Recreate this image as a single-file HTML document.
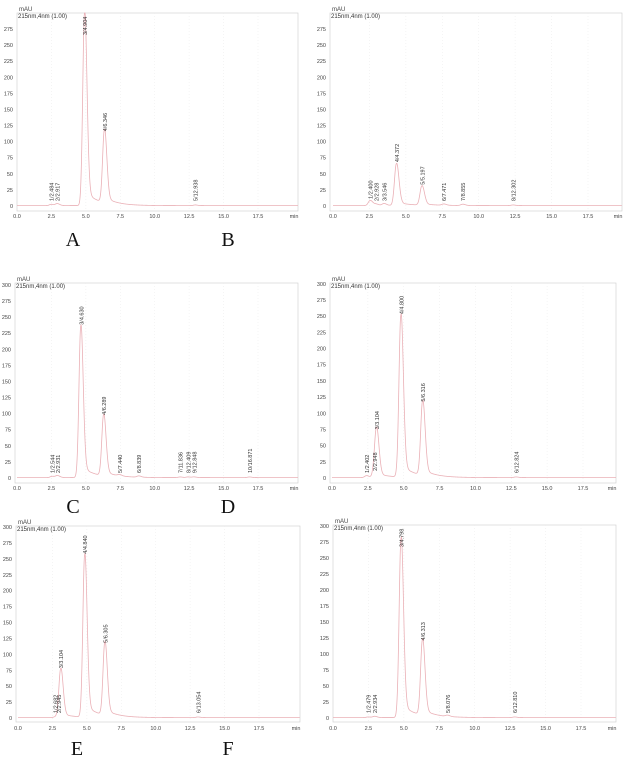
<!DOCTYPE html>
<html><head><meta charset="utf-8"><style>
body{margin:0;background:#fff;width:624px;height:771px;overflow:hidden}
svg{display:block}
text{font-family:"Liberation Sans",sans-serif}
</style></head><body>
<svg id="s" width="624" height="771"></svg>
<script>
// ---- data ----
const ticksY = [0,25,50,75,100,125,150,175,200,225,250,275];
const ticksX = [0,2.5,5,7.5,10,12.5,15,17.5];
const tickXLabels = ["0.0","2.5","5.0","7.5","10.0","12.5","15.0","17.5"];
const panelNames = ["A","B","C","D","E","F"];
const timesA = [2.484,2.917,4.904,6.346,12.938];
const heightsA = [2,3,300,113,1];
const labelsA = ["1/2.484","2/2.917","3/4.904","4/6.346","5/12.938"];
const timesB = [2.55,2.95,3.5,4.35,6.1,7.6,8.9,12.35];
const heightsB = [8,2,3,65,30,2,2,1];
const labelsB = ["1/2.400","2/2.928","3/3.546","4/4.372","5/5.197","6/7.471","7/8.855","8/12.302"];
const timesC = [2.544,2.931,4.63,6.289,7.44,8.839,11.836,12.409,12.848,16.871];
const heightsC = [2,3,235,95,2,2,1,1,1,1];
const labelsC = ["1/2.544","2/2.931","3/4.630","4/6.289","5/7.440","6/8.839","7/11.836","8/12.409","9/12.848","10/16.871"];
const timesD = [2.402,2.948,3.104,4.8,6.316,12.824];
const heightsD = [3,8,72,250,115,1];
const labelsD = ["1/2.402","2/2.948","3/3.104","4/4.800","5/6.316","6/12.824"];
const timesE = [2.682,2.945,3.104,4.84,6.305,13.054];
const heightsE = [1,3,75,255,115,1];
const labelsE = ["1/2.682","2/2.945","3/3.104","4/4.840","5/6.305","6/13.054"];
const timesF = [2.479,2.934,4.798,6.313,8.076,12.81];
const heightsF = [1,2,280,118,2,1];
const labelsF = ["1/2.479","2/2.934","3/4.798","4/6.313","5/8.076","6/12.810"];

// ---- layout (not data) ----
const panels = [
 {id:"a",times:timesA,h:heightsA,lab:labelsA,x0:17,x175:258,zero:206,y275:29,l:17,t:13,r:298,b:211,ly:218,top300:false},
 {id:"b",times:timesB,h:heightsB,lab:labelsB,x0:333,x175:588,zero:206,y275:29,l:330,t:13,r:622,b:211,ly:218,top300:false},
 {id:"c",times:timesC,h:heightsC,lab:labelsC,x0:17,x175:258,zero:478,y275:301,l:15,t:283,r:298,b:483,ly:490,top300:true},
 {id:"d",times:timesD,h:heightsD,lab:labelsD,x0:332,x175:583,zero:478,y275:300,l:330,t:283,r:616,b:483,ly:490,top300:true},
 {id:"e",times:timesE,h:heightsE,lab:labelsE,x0:18,x175:259,zero:718,y275:543,l:16,t:526,r:300,b:722,ly:730,top300:true},
 {id:"f",times:timesF,h:heightsF,lab:labelsF,x0:333,x175:581,zero:718,y275:542,l:333,t:525,r:616,b:722,ly:730,top300:true}
];
const letters = [[73,246,0],[228,246,1],[73,513,2],[228,513,3],[77,755,4],[228,755,5]];
const NS="http://www.w3.org/2000/svg";
const svg=document.getElementById('s');
function mk(tag,attrs,parent,text){const e=document.createElementNS(NS,tag);for(const k in attrs)e.setAttribute(k,attrs[k]);if(text!==undefined)e.textContent=text;(parent||svg).appendChild(e);return e;}
function shape(d){ if(d<0) return Math.exp(-0.5*(d/0.13)**2); return Math.exp(-0.5*(d/0.17)**2)+0.08*Math.exp(-d/0.9)*(1-Math.exp(-d/0.08)); }
panels.forEach(p=>{
  const g=mk('g',{});
  
  
  const X=t=>p.x0+(p.x175-p.x0)*t/17.5;
  const Y=v=>p.zero-(p.zero-p.y275)*v/275;
  const box=mk('rect',{x:p.l,y:p.t,width:p.r-p.l,height:p.b-p.t,fill:'none',stroke:'#ccc','stroke-width':0.6},g);
  
  ticksX.forEach((t,i)=>{
    if(i>0) mk('line',{x1:X(t),x2:X(t),y1:p.t,y2:p.b,stroke:'#eee','stroke-width':0.6,'stroke-dasharray':'1,2'},g);
    const tl=mk('text',{x:X(t),y:p.ly,'font-size':5.5,'text-anchor':'middle',fill:'#444'},g,tickXLabels[i]);
    
  });
  mk('text',{x:p.r-4,y:p.ly,'font-size':5.5,'text-anchor':'middle',fill:'#444'},g,'min');
  const yt=p.top300?ticksY.concat([300]):ticksY;
  yt.forEach(v=>{
    const tl=mk('text',{x:p.l-4,y:Y(v)+2,'font-size':5.5,'text-anchor':'end',fill:'#444'},g,String(v));
    
  });
  const u=mk('text',{x:p.l+2,y:p.t-2,'font-size':6,fill:'#444'},g,'mAU');
  
  const w=mk('text',{x:p.l+1,y:p.t+5,'font-size':6,fill:'#333'},g,'215nm,4nm (1.00)');
  
  let d='';
  const tmax=(p.r-p.x0)/((p.x175-p.x0)/17.5);
  for(let t=0;t<=tmax;t+=0.02){
    let v=0.6; p.times.forEach((tr,i)=>{v+=p.h[i]*shape(t-tr);});
    let y=Math.max(Y(v),p.t);
    d+=(t===0?'M':'L')+X(t).toFixed(2)+','+y.toFixed(2);
  }
  const path=mk('path',{d:d,fill:'none',stroke:'#eab0b6','stroke-width':0.8},g);
  
  p.times.forEach((tr,i)=>{
    const x=X(tr)+2.5; const y=Math.max(Math.min(Y(p.h[i])-2,p.zero-5),p.t+22);
    const tx=mk('text',{x:x,y:y,'font-size':5.5,fill:'#333',transform:`rotate(-90 ${x} ${y})`},g,p.lab[i]);
    
  });
});
letters.forEach(L=>{
  const t=mk('text',{x:L[0],y:L[1],'font-size':20,'text-anchor':'middle',fill:'#111'},svg,panelNames[L[2]]);
  t.style.fontFamily='"Liberation Serif",serif';
  
});
</script>
</body></html>
